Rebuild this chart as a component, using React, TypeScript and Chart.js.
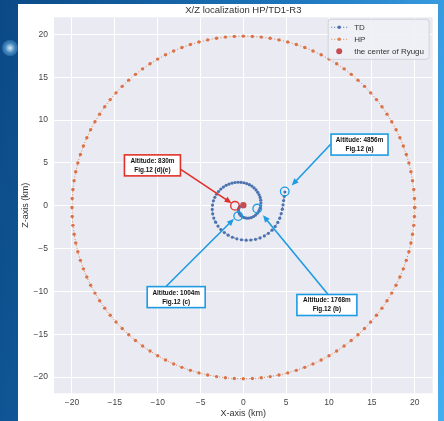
import React, { useEffect, useRef } from "react";
import { Chart, registerables } from "chart.js";
Chart.register(...registerables);

// ---------- data ----------
const chartTitle = "X/Z localization HP/TD1-R3";
const xTitle = "X-axis (km)";
const zTitle = "Z-axis (km)";
const seriesNames = ["TD", "HP", "the center of Ryugu"];
const xTicks = [-20, -15, -10, -5, 0, 5, 10, 15, 20];
const zTicks = [-20, -15, -10, -5, 0, 5, 10, 15, 20];

const tdX = [4.85, 4.78, 4.70, 4.63, 4.55, 4.42, 4.25, 4.02, 3.72, 3.35, 2.92, 2.45, 1.95, 1.42, 0.88, 0.33, -0.22, -0.76, -1.28, -1.77, -2.22, -2.62, -2.96, -3.24, -3.45, -3.58, -3.63, -3.60, -3.49, -3.33, -3.13, -2.90, -2.63, -2.33, -2.01, -1.67, -1.32, -0.97, -0.62, -0.28, 0.06, 0.39, 0.70, 0.99, 1.25, 1.48, 1.68, 1.84, 1.96, 2.03, 2.05, 2.02, 1.94, 1.81, 1.64, 1.43, 1.19, 0.93, 0.66, 0.39, 0.13, -0.10, -0.30, -0.45, -0.54, -0.57, -0.53, -0.43];
const tdZ = [1.60, 1.10, 0.60, 0.10, -0.40, -0.92, -1.45, -1.95, -2.42, -2.85, -3.22, -3.52, -3.76, -3.92, -4.00, -4.02, -3.97, -3.86, -3.68, -3.44, -3.14, -2.78, -2.37, -1.92, -1.44, -0.94, -0.43, 0.08, 0.58, 0.98, 1.34, 1.66, 1.94, 2.18, 2.38, 2.53, 2.64, 2.71, 2.74, 2.73, 2.68, 2.59, 2.46, 2.29, 2.08, 1.84, 1.57, 1.28, 0.97, 0.65, 0.32, -0.01, -0.32, -0.61, -0.87, -1.09, -1.26, -1.38, -1.44, -1.45, -1.40, -1.30, -1.15, -0.96, -0.74, -0.51, -0.29, -0.10];

const hpX = [
  20.00, 19.97, 19.89, 19.75, 19.56, 19.32, 19.02, 18.67, 18.27, 17.82, 17.32, 16.77, 16.18, 15.54, 14.86, 14.14, 13.38, 12.59, 11.76, 10.89, 10.00, 9.08, 8.13, 7.17, 6.18, 5.18, 4.16, 3.13, 2.09, 1.05,
  0.00, -1.05, -2.09, -3.13, -4.16, -5.18, -6.18, -7.17, -8.13, -9.08, -10.00, -10.89, -11.76, -12.59, -13.38, -14.14, -14.86, -15.54, -16.18, -16.77, -17.32, -17.82, -18.27, -18.67, -19.02, -19.32, -19.56, -19.75, -19.89, -19.97,
  -20.00, -19.97, -19.89, -19.75, -19.56, -19.32, -19.02, -18.67, -18.27, -17.82, -17.32, -16.77, -16.18, -15.54, -14.86, -14.14, -13.38, -12.59, -11.76, -10.89, -10.00, -9.08, -8.13, -7.17, -6.18, -5.18, -4.16, -3.13, -2.09, -1.05,
  0.00, 1.05, 2.09, 3.13, 4.16, 5.18, 6.18, 7.17, 8.13, 9.08, 10.00, 10.89, 11.76, 12.59, 13.38, 14.14, 14.86, 15.54, 16.18, 16.77, 17.32, 17.82, 18.27, 18.67, 19.02, 19.32, 19.56, 19.75, 19.89, 19.97,
  20.00,
];
const hpZ = [
  -0.20, 0.85, 1.89, 2.93, 3.96, 4.98, 5.98, 6.97, 7.93, 8.88, 9.80, 10.69, 11.56, 12.39, 13.18, 13.94, 14.66, 15.34, 15.98, 16.57, 17.12, 17.62, 18.07, 18.47, 18.82, 19.12, 19.36, 19.55, 19.69, 19.77,
  19.80, 19.77, 19.69, 19.55, 19.36, 19.12, 18.82, 18.47, 18.07, 17.62, 17.12, 16.57, 15.98, 15.34, 14.66, 13.94, 13.18, 12.39, 11.56, 10.69, 9.80, 8.88, 7.93, 6.97, 5.98, 4.98, 3.96, 2.93, 1.89, 0.85,
  -0.20, -1.25, -2.29, -3.33, -4.36, -5.38, -6.38, -7.37, -8.33, -9.28, -10.20, -11.09, -11.96, -12.79, -13.58, -14.34, -15.06, -15.74, -16.38, -16.97, -17.52, -18.02, -18.47, -18.87, -19.22, -19.52, -19.76, -19.95, -20.09, -20.17,
  -20.20, -20.17, -20.09, -19.95, -19.76, -19.52, -19.22, -18.87, -18.47, -18.02, -17.52, -16.97, -16.38, -15.74, -15.06, -14.34, -13.58, -12.79, -11.96, -11.09, -10.20, -9.28, -8.33, -7.37, -6.38, -5.38, -4.36, -3.33, -2.29, -1.25,
  -0.20,
];

const centerX = [0.0];
const centerZ = [0.05];

// annotation texts and anchor points (data coordinates)
const annotationTexts = [
  ["Altitude: 830m", "Fig.12 (d)(e)"],
  ["Altitude: 4856m", "Fig.12 (a)"],
  ["Altitude: 1004m", "Fig.12 (c)"],
  ["Altitude: 1768m", "Fig.12 (b)"],
];
const annotationBoxAt = [[-10.61, 4.71], [13.56, 7.14], [-7.84, -10.67], [9.75, -11.59]];
const annotationTail = [[-7.75, 4.54], [10.30, 7.30], [-9.03, -9.43], [9.87, -10.34]];
const annotationHead = [[-1.37, 0.30], [5.64, 2.36], [-1.10, -1.53], [2.29, -1.12]];
const annotationRing = [[-0.98, -0.01], [4.83, 1.66], [-0.60, -1.21], [1.62, -0.33]];

// ---------- styles ----------
const FONT = "'Liberation Sans', Arial, sans-serif";
const BLUE = "#4C72B0";
const ORANGE = "#DD8452";
const RED = "#C44E52";
const annColors = ["#E0302A", "#1E9BE2", "#1E9BE2", "#1E9BE2"];
const annBoxW = [56, 57, 58, 60];
const annBoxH = 21;

const fmt = (v: number) => (v < 0 ? "\u2212" + Math.abs(v) : String(v));

const decorPlugin = {
  id: "decor",
  beforeDraw(chart: any) {
    const { ctx, chartArea: a } = chart;
    ctx.save();
    ctx.fillStyle = "#EAEAF2";
    ctx.fillRect(a.left, a.top, a.right - a.left, a.bottom - a.top);
    ctx.restore();
  },
  afterDatasetsDraw(chart: any) {
    const { ctx } = chart;
    const xs = chart.scales.x;
    const ys = chart.scales.y;
    const px = (v: number) => xs.getPixelForValue(v);
    const py = (v: number) => ys.getPixelForValue(v);
    ctx.save();
    annotationTexts.forEach((lines, i) => {
      const col = annColors[i];
      const tx = px(annotationTail[i][0]);
      const ty = py(annotationTail[i][1]);
      const hx = px(annotationHead[i][0]);
      const hy = py(annotationHead[i][1]);
      const ang = Math.atan2(hy - ty, hx - tx);
      const L = 7;
      const W = 3;
      ctx.strokeStyle = col;
      ctx.fillStyle = col;
      ctx.lineWidth = 1.6;
      ctx.beginPath();
      ctx.moveTo(tx, ty);
      ctx.lineTo(hx - Math.cos(ang) * L * 0.8, hy - Math.sin(ang) * L * 0.8);
      ctx.stroke();
      ctx.beginPath();
      ctx.moveTo(hx, hy);
      ctx.lineTo(hx - Math.cos(ang) * L - Math.sin(ang) * W, hy - Math.sin(ang) * L + Math.cos(ang) * W);
      ctx.lineTo(hx - Math.cos(ang) * L + Math.sin(ang) * W, hy - Math.sin(ang) * L - Math.cos(ang) * W);
      ctx.closePath();
      ctx.fill();
      ctx.lineWidth = 1.3;
      ctx.beginPath();
      ctx.arc(px(annotationRing[i][0]), py(annotationRing[i][1]), 4.3, 0, Math.PI * 2);
      ctx.stroke();
      const cx = px(annotationBoxAt[i][0]);
      const cy = py(annotationBoxAt[i][1]);
      const w = annBoxW[i];
      ctx.fillStyle = "#ffffff";
      ctx.fillRect(cx - w / 2, cy - annBoxH / 2, w, annBoxH);
      ctx.lineWidth = 1.6;
      ctx.strokeRect(cx - w / 2, cy - annBoxH / 2, w, annBoxH);
      ctx.fillStyle = "#111";
      ctx.font = "bold 6.4px " + FONT;
      ctx.textAlign = "center";
      ctx.textBaseline = "middle";
      ctx.fillText(lines[0], cx, cy - 4.3);
      ctx.fillText(lines[1], cx, cy + 4.7);
    });
    ctx.restore();
  },
  afterDraw(chart: any) {
    const { ctx, chartArea: a } = chart;
    ctx.save();
    ctx.fillStyle = "#333";
    ctx.font = "9.5px " + FONT;
    ctx.textAlign = "center";
    ctx.textBaseline = "middle";
    ctx.fillText(chartTitle, (a.left + a.right) / 2, 6.7);
    const lw = 101;
    const lh = 40;
    const lx = a.right - lw - 3.5;
    const ly = a.top + 2;
    ctx.fillStyle = "rgba(240,240,246,0.9)";
    ctx.strokeStyle = "#D2D2DA";
    ctx.lineWidth = 1;
    ctx.beginPath();
    (ctx as any).roundRect(lx, ly, lw, lh, 3);
    ctx.fill();
    ctx.stroke();
    const cols = [BLUE, ORANGE, RED];
    seriesNames.forEach((name, i) => {
      const y = ly + 8 + i * 12;
      const x0 = lx + 3;
      const x1 = lx + 19;
      if (i < 2) {
        ctx.strokeStyle = cols[i];
        ctx.lineWidth = 1;
        ctx.setLineDash([1, 2]);
        ctx.beginPath();
        ctx.moveTo(x0, y);
        ctx.lineTo(x1, y);
        ctx.stroke();
        ctx.setLineDash([]);
        ctx.fillStyle = cols[i];
        ctx.beginPath();
        ctx.arc((x0 + x1) / 2, y, 1.8, 0, Math.PI * 2);
        ctx.fill();
      } else {
        ctx.fillStyle = cols[i];
        ctx.beginPath();
        ctx.arc((x0 + x1) / 2, y, 3, 0, Math.PI * 2);
        ctx.fill();
      }
      ctx.fillStyle = "#333";
      ctx.font = "8px " + FONT;
      ctx.textAlign = "left";
      ctx.textBaseline = "middle";
      ctx.fillText(name, lx + 26, y);
    });
    ctx.restore();
  },
};

export default function App() {
  const ref = useRef<HTMLCanvasElement | null>(null);
  useEffect(() => {
    if (!ref.current) return;
    const chart = new Chart(ref.current, {
      type: "scatter",
      data: {
        datasets: [
          {
            label: seriesNames[0],
            data: tdX.map((x, i) => ({ x, y: tdZ[i] })),
            showLine: true,
            borderColor: BLUE,
            borderWidth: 1,
            borderDash: [1, 2],
            backgroundColor: BLUE,
            pointRadius: 1.6,
            pointBorderWidth: 0,
            tension: 0,
            order: 2,
          },
          {
            label: seriesNames[1],
            data: hpX.map((x, i) => ({ x, y: hpZ[i] })),
            showLine: true,
            borderColor: ORANGE,
            borderWidth: 1,
            borderDash: [1, 2],
            backgroundColor: "#DB7247",
            pointRadius: 1.7,
            pointBorderWidth: 0,
            tension: 0,
            order: 3,
          },
          {
            label: seriesNames[2],
            data: centerX.map((x, i) => ({ x, y: centerZ[i] })),
            showLine: false,
            backgroundColor: RED,
            borderColor: RED,
            pointRadius: 3.2,
            pointBorderWidth: 0,
            order: 1,
          },
        ],
      },
      options: {
        animation: false,
        responsive: false,
        events: [],
        layout: { autoPadding: false, padding: { top: 13.3, right: 5.3, left: 0, bottom: 0 } },
        plugins: {
          legend: { display: false },
          title: { display: false },
          tooltip: { enabled: false },
        },
        scales: {
          x: {
            type: "linear",
            min: -22.1,
            max: 22.1,
            afterBuildTicks: (s: any) => {
              s.ticks = xTicks.map((v) => ({ value: v }));
            },
            afterFit: (s: any) => {
              s.height = 27.7;
            },
            grid: { color: "#ffffff", lineWidth: 1, drawTicks: false },
            border: { display: false },
            ticks: {
              padding: 4,
              color: "#444",
              font: { family: FONT, size: 8.5 },
              callback: (v: any) => fmt(Number(v)),
              maxRotation: 0,
            },
            title: {
              display: true,
              text: xTitle,
              color: "#333",
              font: { family: FONT, size: 9 },
              padding: { top: 0, bottom: 1.6 },
            },
          },
          y: {
            type: "linear",
            min: -21.9,
            max: 22.0,
            afterBuildTicks: (s: any) => {
              s.ticks = zTicks.map((v) => ({ value: v }));
            },
            afterFit: (s: any) => {
              s.width = 36;
            },
            grid: { color: "#ffffff", lineWidth: 1, drawTicks: false },
            border: { display: false },
            ticks: {
              padding: 6,
              color: "#444",
              font: { family: FONT, size: 8.5 },
              callback: (v: any) => fmt(Number(v)),
            },
            title: {
              display: true,
              text: zTitle,
              color: "#333",
              font: { family: FONT, size: 9 },
              padding: { top: 2.6, bottom: 0 },
            },
          },
        },
      },
      plugins: [decorPlugin],
    } as any);
    return () => chart.destroy();
  }, []);

  return (
    <div
      style={{
        position: "absolute",
        left: 0,
        top: 0,
        width: 444,
        height: 421,
        overflow: "hidden",
        background: "linear-gradient(100deg, #0b4985 0%, #1c74bb 55%, #45aef0 100%)",
      }}
    >
      <div
        style={{
          position: "absolute",
          left: 2,
          top: 40,
          width: 16,
          height: 16,
          borderRadius: "50%",
          background:
            "radial-gradient(circle, rgba(225,245,255,0.95) 0%, rgba(130,200,250,0.45) 45%, rgba(0,0,0,0) 100%)",
        }}
      />
      <div
        style={{
          position: "absolute",
          left: 18,
          top: 4,
          width: 420,
          height: 417,
          background: "#ffffff",
        }}
      >
        <canvas ref={ref} width={420} height={417} style={{ display: "block" }} />
      </div>
    </div>
  );
}
